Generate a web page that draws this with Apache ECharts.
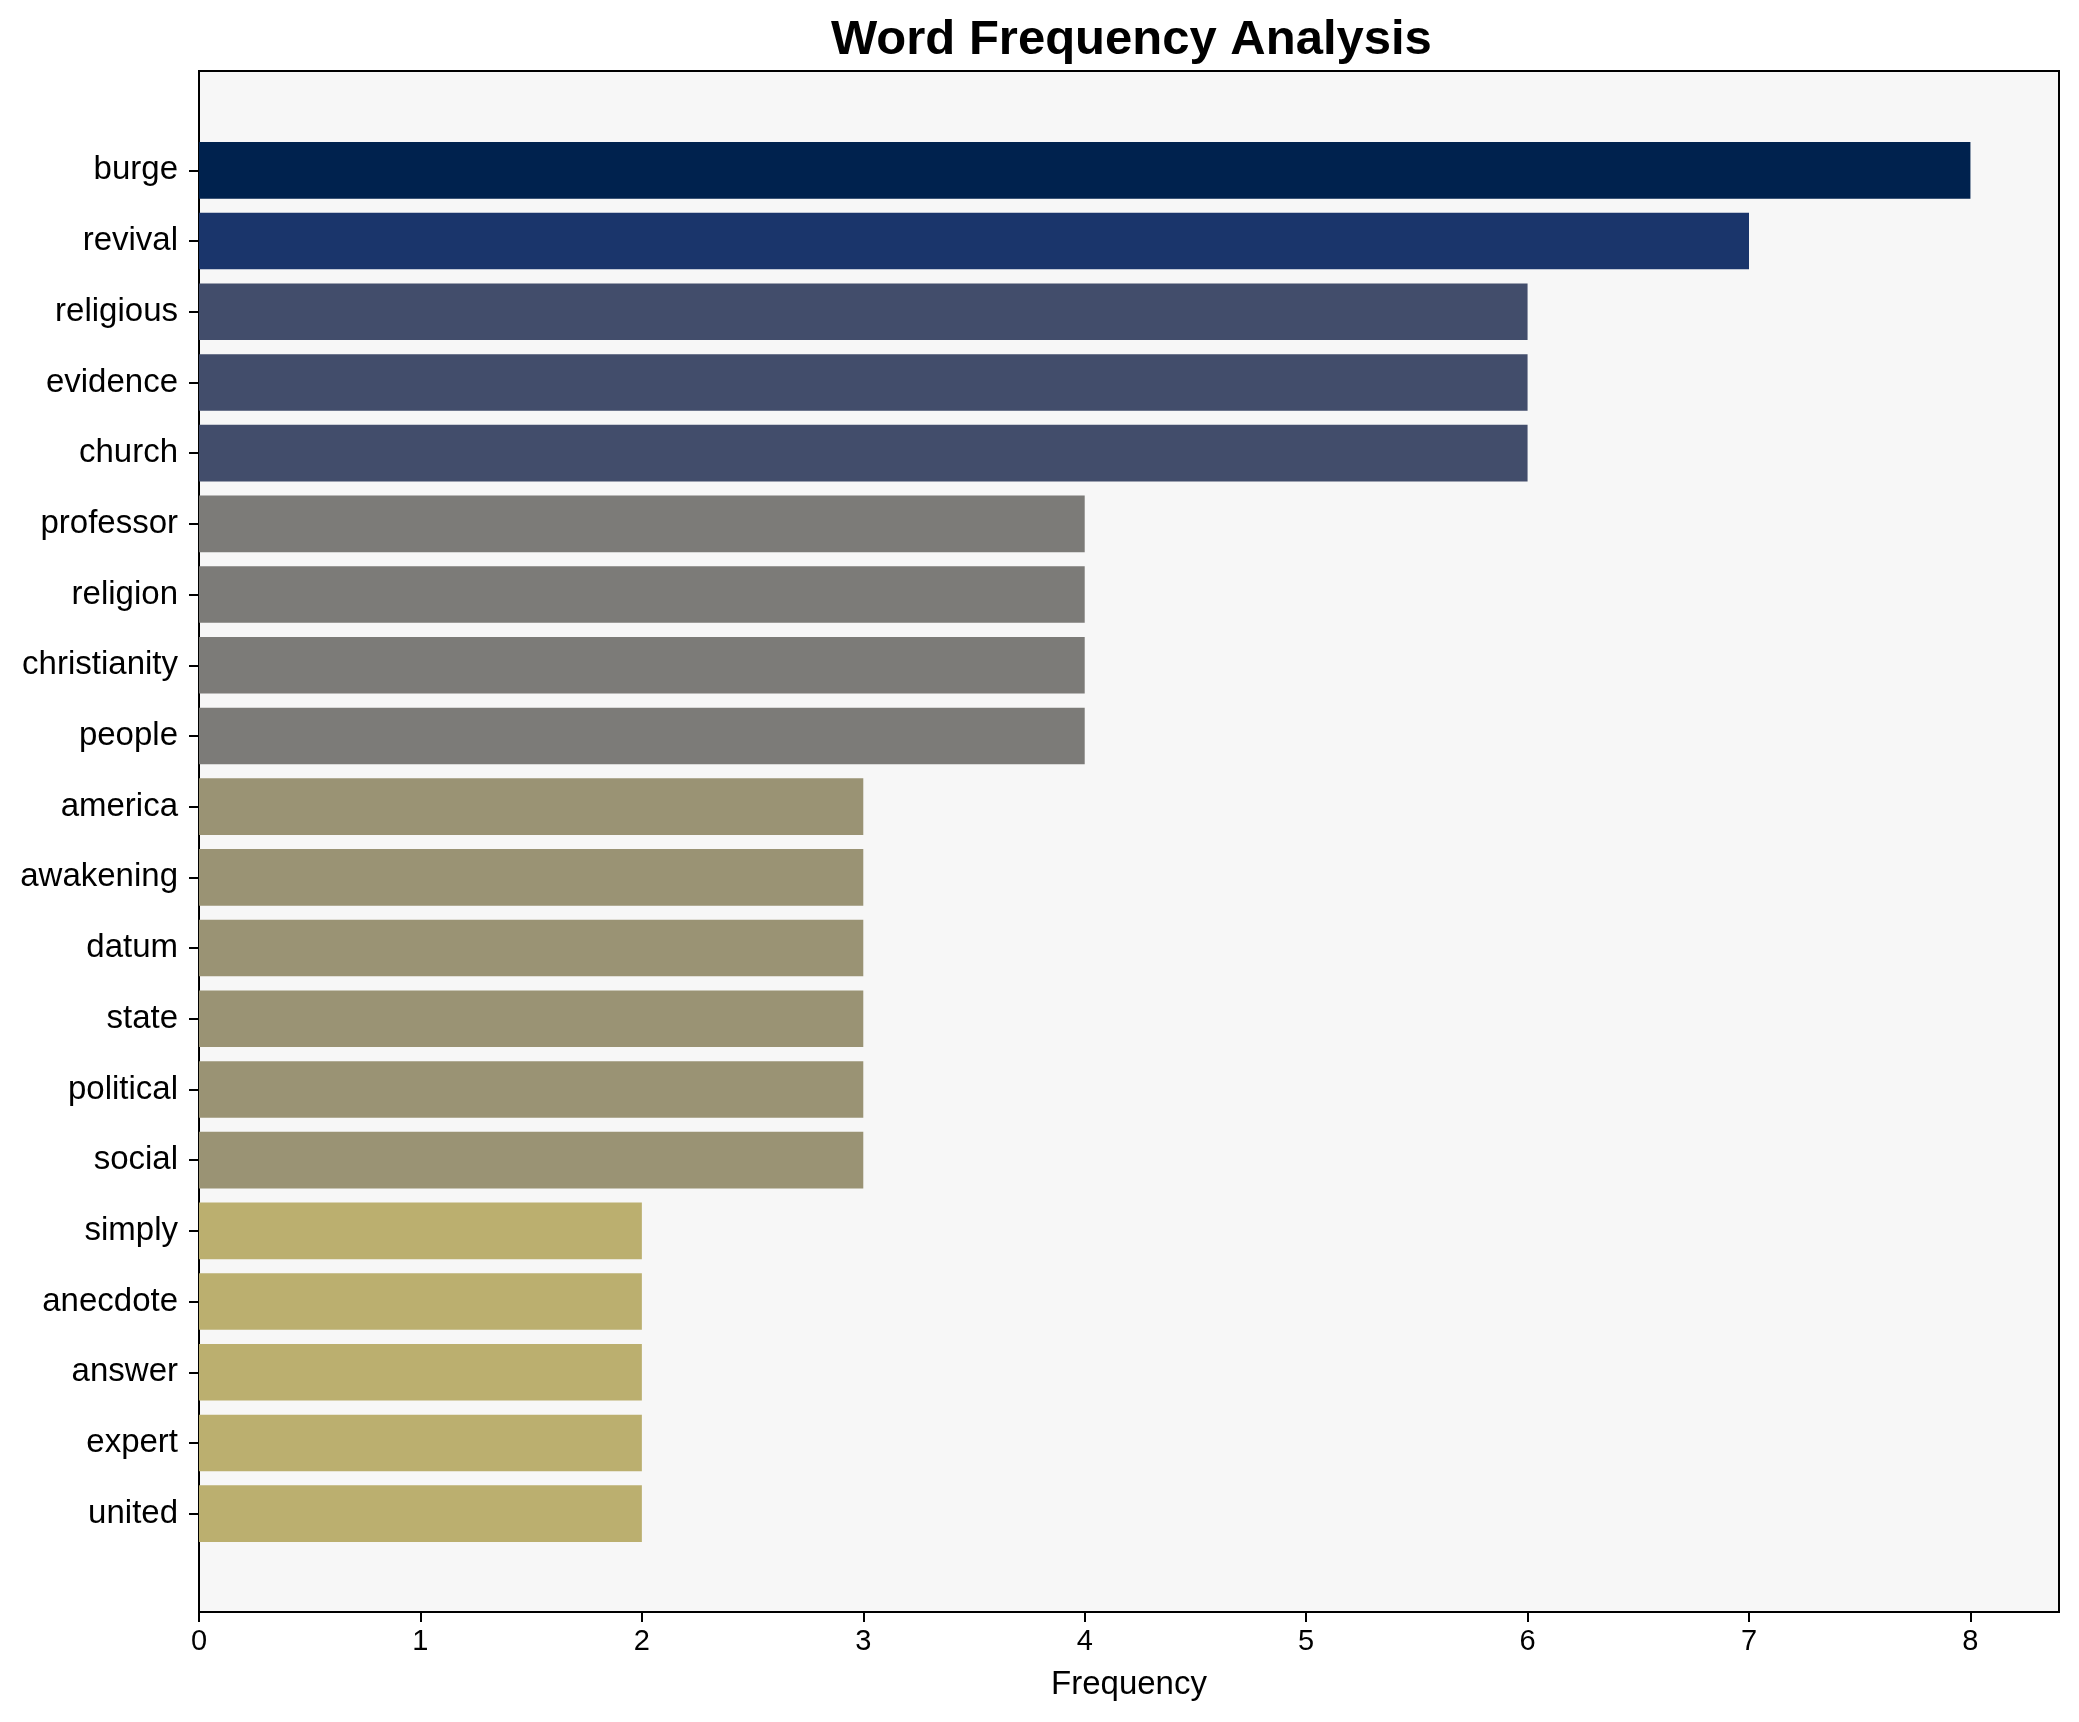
<!DOCTYPE html>
<html>
<head>
<meta charset="utf-8">
<script src="https://cdn.jsdelivr.net/npm/echarts@6/dist/echarts.min.js"></script>
<style>
html,body{margin:0;padding:0;background:#fff;}
#chart{width:2079px;height:1722px;}
</style>
</head>
<body>
<div id="chart"></div>
<script>
const words = ['burge','revival','religious','evidence','church','professor','religion','christianity','people','america','awakening','datum','state','political','social','simply','anecdote','answer','expert','united'];
const frequencies = [8,7,6,6,6,4,4,4,4,3,3,3,3,3,3,2,2,2,2,2];
const xTicks = [0,1,2,3,4,5,6,7,8];
const colorByValue = {8:'#00224e',7:'#1a356b',6:'#424d6b',4:'#7c7b78',3:'#9a9374',2:'#bbaf6f'};

const FONT = '"Liberation Sans", Arial, sans-serif';
const chart = echarts.init(document.getElementById('chart'), null, {renderer:'canvas'});
chart.setOption({
  animation:false,
  backgroundColor:'#ffffff',
  title:{
    text:'Word Frequency Analysis',
    left:826, top:11,
    textStyle:{fontFamily:FONT,fontSize:49,fontWeight:'bold',color:'#000'}
  },
  grid:[
    {left:199,right:20,top:71,bottom:110,show:true,backgroundColor:'#f7f7f7',borderColor:'#000',borderWidth:2},
    {left:199,right:20,top:135,bottom:173}
  ],
  xAxis:[
    {type:'value',gridIndex:0,min:0,max:8.4,interval:1,
     axisLine:{show:false},
     splitLine:{show:false},
     axisTick:{show:true,length:10,lineStyle:{color:'#000',width:2},customValues:xTicks},
     axisLabel:{color:'#000',fontFamily:FONT,fontSize:29,margin:15,customValues:xTicks},
     name:'Frequency',nameLocation:'middle',nameGap:56,
     nameTextStyle:{fontFamily:FONT,fontSize:33,color:'#000'}},
    {type:'value',gridIndex:1,min:0,max:8.4,show:false}
  ],
  yAxis:[
    {type:'value',gridIndex:0,show:false},
    {type:'category',gridIndex:1,data:words,inverse:true,
     axisLine:{show:false},
     axisTick:{show:true,alignWithLabel:true,length:10,lineStyle:{color:'#000',width:2}},
     axisLabel:{color:'#000',fontFamily:FONT,fontSize:33,margin:21}}
  ],
  series:[{
    type:'bar',xAxisIndex:1,yAxisIndex:1,
    barCategoryGap:'20%',
    data:frequencies.map(v=>({value:v,itemStyle:{color:colorByValue[v]}}))
  }]
});
</script>
</body>
</html>
